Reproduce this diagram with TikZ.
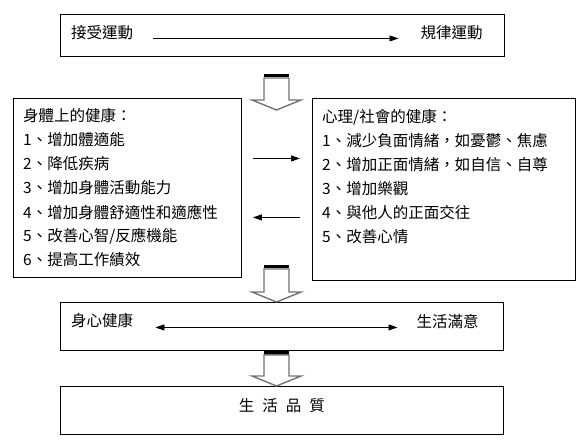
\documentclass[tikz,border=0pt]{standalone}
\usepackage{fontspec}
\setmainfont{Noto Sans CJK TC}
\usetikzlibrary{arrows.meta,calc}

\tikzset{
  box/.style={draw,line width=0.9pt,inner sep=0pt,anchor=north west},
  item/.style={inner sep=0pt,anchor=west,font=\fontsize{15.5}{20}\selectfont},
  arr/.style={line width=0.8pt,-{Triangle[length=9pt,width=6pt]}},
  arrboth/.style={line width=0.8pt,{Triangle[length=9pt,width=6pt]}-{Triangle[length=9pt,width=6pt]}},
  hollow/.style={draw=black!55,line width=1.4pt,fill=white},
  hollowcap/.style={line width=3pt}
}

\newcommand{\hollowdown}[2]{%
  \draw[hollow] let \p1=(#1), \p2=(#2) in
    (\x1-12.5pt,\y1-4pt) -- (\x1-12.5pt,\y2+10pt) -- (\x1-24.5pt,\y2+10pt)
    -- (\x2,\y2) -- (\x1+24.5pt,\y2+10pt) -- (\x1+12.5pt,\y2+10pt)
    -- (\x1+12.5pt,\y1-4pt) -- cycle;
  \draw[hollowcap] let \p1=(#1) in (\x1-12.5pt,\y1-1.5pt) -- (\x1+12.5pt,\y1-1.5pt);
}

\begin{document}
\begin{tikzpicture}[x=1pt,y=-1pt]
  \useasboundingbox (0,0) rectangle (588,446);

  % boxes
  \node[box,minimum width=444pt,minimum height=42pt] (motion) at (60,14) {};
  \node[box,minimum width=228pt,minimum height=179pt] (body) at (13,98) {};
  \node[box,minimum width=263pt,minimum height=182pt] (mind) at (312,98) {};
  \node[box,minimum width=443pt,minimum height=48pt] (health) at (60,302) {};
  \node[box,minimum width=443pt,minimum height=48pt] (quality) at (60,386) {};

  % top row
  \node[item] (accept) at ([shift={(11pt,3pt)}]motion.west) {接受運動};
  \node[item,anchor=east] (regular) at ([shift={(-22pt,3pt)}]motion.east) {規律運動};
  \draw[arr] ([shift={(20pt,-6pt)}]accept.east) -- ([shift={(-22pt,-6pt)}]regular.west);

  % the two lists
  \foreach \t [count=\i from 0] in {身體上的健康：,1、增加體適能,2、降低疾病,3、增加身體活動能力,4、增加身體舒適性和適應性,5、改善心智/反應機能,6、提高工作績效}
    \node[item] (body-\i) at ($(body.north west)+(10,18+24*\i)$) {\t};
  \foreach \t [count=\i from 0] in {心理/社會的健康：,1、減少負面情緒，如憂鬱、焦慮,2、增加正面情緒，如自信、自尊,3、增加樂觀,4、與他人的正面交往,5、改善心情}
    \node[item] (mind-\i) at ($(mind.north west)+(10,19+24*\i)$) {\t};

  \coordinate (bodyup) at ($(body.east)+(11,-29.5)$);
  \coordinate (bodydown) at ($(body.east)+(11,29.5)$);
  \draw[arr] (bodyup) -- ($(mind.west |- bodyup)+(-12,0)$);
  \draw[arr] ($(mind.west |- bodydown)+(-12,0)$) -- (bodydown);

  % middle row
  \node[item] (wellbeing) at ([shift={(11pt,6pt)}]health.west) {身心健康};
  \node[item,anchor=east] (satisfied) at ([shift={(-25pt,5pt)}]health.east) {生活滿意};
  \draw[arrboth] ([shift={(22pt,-7pt)}]wellbeing.east) -- ([shift={(-19pt,-6pt)}]satisfied.west);

  % bottom row
  \node[item,anchor=center] (life) at ([yshift=5pt]quality.center) {\spaceskip=8pt\relax 生 活 品 質};

  % hollow arrows
  \coordinate (drop1) at (276.5,74);
  \coordinate (land1) at (276.5,110);
  \coordinate (drop2) at (276.5,265);
  \coordinate (land2) at (health.north -| drop2);
  \coordinate (drop3) at (health.south -| drop2);
  \coordinate (land3) at (quality.north -| drop2);
  \hollowdown{drop1}{land1}
  \hollowdown{drop2}{land2}
  \hollowdown{drop3}{land3}
\end{tikzpicture}
\end{document}
